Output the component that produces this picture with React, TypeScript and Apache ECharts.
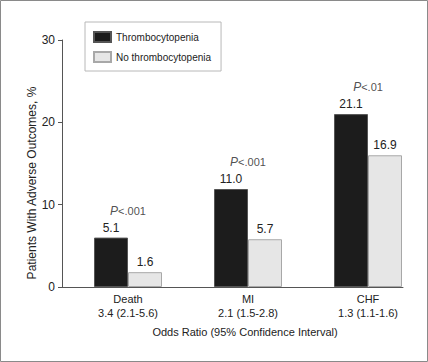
import React, { useEffect, useRef } from "react";
import * as echarts from "echarts";

const categories = ["Death", "MI", "CHF"];
const oddsRatios = ["3.4 (2.1-5.6)", "2.1 (1.5-2.8)", "1.3 (1.1-1.6)"];
// bar heights as drawn in the figure
const thrombHeights = [6.0, 11.9, 21.0];
const noThrombHeights = [1.8, 5.8, 16.0];
// printed value labels
const thrombLabels = ["5.1", "11.0", "21.1"];
const noThrombLabels = ["1.6", "5.7", "16.9"];
const pValues = ["<.001", "<.001", "<.01"];
const yTicks = { min: 0, max: 30, interval: 10 };
const yAxisTitle = "Patients With Adverse Outcomes, %";
const xAxisTitle = "Odds Ratio (95% Confidence Interval)";

const FONT = "Liberation Sans, Arial, Helvetica, sans-serif";
const TXT = "#222";
const AX = "#555";

export default function App() {
  const ref = useRef<HTMLDivElement>(null);
  useEffect(() => {
    if (!ref.current) return;
    const chart = echarts.init(ref.current, null, { renderer: "svg" });
    chart.setOption({
      animation: false,
      backgroundColor: "#fff",
      textStyle: { fontFamily: FONT, color: TXT },
      graphic: [
        {
          type: "rect",
          shape: { x: 0.5, y: 0.5, width: 427, height: 361 },
          style: { fill: "none", stroke: "#8a8a8a", lineWidth: 1 },
          silent: true,
        },
        {
          type: "text",
          x: 32,
          y: 183,
          rotation: Math.PI / 2,
          silent: true,
          style: {
            text: yAxisTitle,
            fontFamily: FONT,
            fontSize: 12,
            fill: TXT,
            align: "center",
            verticalAlign: "middle",
          },
        },
      ],
      legend: {
        orient: "vertical",
        left: 85,
        top: 22,
        padding: [9, 10, 8, 8],
        itemGap: 8,
        itemWidth: 17,
        itemHeight: 10,
        borderColor: "#b8b8b8",
        borderWidth: 1,
        icon: "rect",
        textStyle: { fontFamily: FONT, fontSize: 10, color: TXT },
        data: ["Thrombocytopenia", "No thrombocytopenia"],
      },
      grid: [
        { left: 68, right: 0, top: 40, bottom: 75 },
        { left: 62, right: 25, top: 40, bottom: 75 },
      ],
      xAxis: [
        {
          type: "category",
          gridIndex: 0,
          data: categories,
          axisLine: { show: false },
          axisTick: { show: false },
          axisLabel: {
            margin: 5,
            fontFamily: FONT,
            fontSize: 11,
            lineHeight: 14,
            color: TXT,
            formatter: (v: string, i: number) => `${v}\n${oddsRatios[i]}`,
          },
          name: xAxisTitle,
          nameLocation: "middle",
          nameGap: 39,
          nameTextStyle: { fontFamily: FONT, fontSize: 11, color: TXT, padding: [0, 6, 0, 0] },
        },
        {
          type: "category",
          gridIndex: 1,
          data: [""],
          axisLine: { show: true, lineStyle: { color: AX, width: 1 } },
          axisTick: { show: false },
          axisLabel: { show: false },
        },
      ],
      yAxis: [
        {
          type: "value",
          gridIndex: 0,
          ...yTicks,
          show: false,
        },
        {
          type: "value",
          gridIndex: 1,
          ...yTicks,
          splitLine: { show: false },
          axisLine: { show: true, lineStyle: { color: AX, width: 1 } },
          axisTick: { show: true, length: 4, lineStyle: { color: AX } },
          axisLabel: { margin: 7, fontFamily: FONT, fontSize: 12, color: TXT },
        },
      ],
      series: [
        {
          name: "Thrombocytopenia",
          type: "bar",
          xAxisIndex: 0,
          yAxisIndex: 0,
          data: thrombHeights,
          barWidth: 34,
          barGap: "0%",
          itemStyle: { color: "#1c1c1c", borderColor: "#555", borderWidth: 1 },
          label: {
            show: true,
            position: "top",
            distance: 4,
            fontFamily: FONT,
            fontSize: 12,
            color: TXT,
            formatter: (p: any) => thrombLabels[p.dataIndex],
          },
        },
        {
          name: "No thrombocytopenia",
          type: "bar",
          xAxisIndex: 0,
          yAxisIndex: 0,
          data: noThrombHeights,
          barWidth: 34,
          barGap: "0%",
          itemStyle: { color: "#e6e6e6", borderColor: "#a8a8a8", borderWidth: 1 },
          label: {
            show: true,
            position: "top",
            distance: 4,
            fontFamily: FONT,
            fontSize: 12,
            color: TXT,
            formatter: (p: any) => noThrombLabels[p.dataIndex],
          },
        },
        {
          name: "pvalues",
          type: "scatter",
          xAxisIndex: 0,
          yAxisIndex: 0,
          data: thrombHeights,
          symbolSize: 0,
          silent: true,
          label: {
            show: true,
            position: "top",
            distance: 21,
            fontFamily: FONT,
            fontSize: 11,
            color: TXT,
            formatter: (p: any) => `{i|P}${pValues[p.dataIndex]}`,
            rich: {
              i: { fontStyle: "italic", fontFamily: FONT, fontSize: 12, color: TXT },
            },
          },
        },
      ],
    });
    return () => chart.dispose();
  }, []);
  return (
    <div
      ref={ref}
      style={{ position: "fixed", left: 0, top: 0, width: 428, height: 362 }}
    />
  );
}
